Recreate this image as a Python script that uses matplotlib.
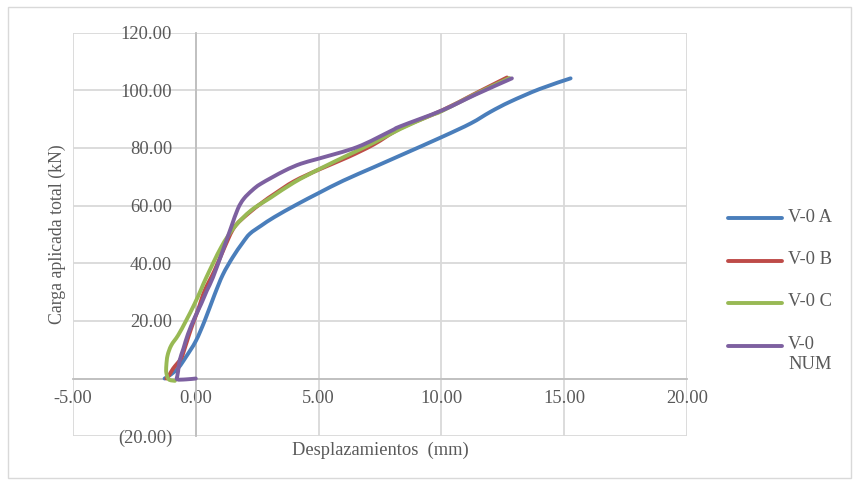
import matplotlib
matplotlib.use("Agg")
import matplotlib.pyplot as plt
from matplotlib.lines import Line2D
from matplotlib.patches import Rectangle, PathPatch
from matplotlib.path import Path
from matplotlib.ticker import FuncFormatter

# ---- data ----
a_x = [-1.27, -1.0, -0.7, -0.4, 0.0, 0.36, 0.76, 1.1, 1.5, 1.9, 2.2, 2.66, 3.2,
       4.1, 5.02, 6.0, 7.25, 8.34, 10.03, 11.2, 12.0, 12.8, 14.0, 15.26]
a_y = [0.0, 1.5, 3.8, 7.5, 13.0, 20.0, 29.0, 36.0, 42.0, 47.0, 50.2, 53.0, 56.0,
       60.3, 64.4, 68.6, 73.3, 77.4, 83.8, 88.5, 92.5, 96.0, 100.4, 104.1]

b_x = [-1.2, -1.06, -0.92, -0.6, -0.45, -0.3, -0.1, 0.1, 0.36, 0.76, 1.17, 1.57, 2.12,
       2.73, 3.2, 4.0, 5.02, 6.2, 7.25, 8.34, 10.03, 11.3, 12.67]
b_y = [0.0, 1.5, 3.5, 7.0, 10.5, 14.5, 19.5, 24.0, 30.5, 37.4, 45.5, 52.5, 57.1,
       61.2, 64.0, 68.4, 72.5, 76.8, 81.2, 86.8, 93.0, 98.5, 104.4]

c_x = [-0.85, -1.1, -1.2, -1.2, -1.15, -1.0, -0.72, -0.4, -0.05, 0.22, 0.43, 1.03,
       1.57, 2.25, 3.06, 4.0, 5.02, 6.2, 7.25, 8.34, 9.5, 10.03, 11.3, 12.77]
c_y = [-0.8, -0.3, 2.0, 4.5, 8.0, 11.5, 15.0, 20.0, 25.9, 31.0, 35.1, 45.5,
       52.5, 58.3, 62.8, 68.0, 72.6, 77.5, 81.8, 86.6, 91.0, 92.8, 98.3, 104.2]

d_x = [0.0, -0.4, -0.75, -0.75, -0.72, -0.66, -0.5, -0.32, -0.05, 0.22, 0.45, 0.7,
       1.1, 1.44, 1.71, 1.95, 2.3, 2.66, 3.6, 4.28, 5.02, 6.58, 7.93, 8.34, 10.03,
       11.4, 12.87]
d_y = [0.0, -0.3, -0.3, 1.0, 2.5, 6.2, 10.5, 15.4, 21.0, 25.9, 30.5, 35.1,
       44.4, 52.5, 58.8, 62.3, 65.3, 67.6, 72.0, 74.5, 76.3, 80.3, 85.8, 87.5, 93.0,
       98.5, 104.1]

series_labels = ["V-0 A", "V-0 B", "V-0 C", "V-0\nNUM"]
series_colors = ["#4a7ebb", "#be4b48", "#98b954", "#7d60a0"]

x_ticks = [-5, 0, 5, 10, 15, 20]
y_ticks = [-20, 0, 20, 40, 60, 80, 100, 120]

FONT = ["Liberation Serif", "DejaVu Serif"]
TXT = "#595959"
FS = 13.3
W, H = 860, 484


def smooth_path(x, y):
    """Excel-style smoothed line: cubic Bezier through every point."""
    pts = list(zip(x, y))
    n = len(pts)
    verts = [pts[0]]
    codes = [Path.MOVETO]
    for i in range(n - 1):
        p0 = pts[i - 1] if i > 0 else pts[i]
        p1 = pts[i]
        p2 = pts[i + 1]
        p3 = pts[i + 2] if i + 2 < n else pts[i + 1]
        c1 = (p1[0] + (p2[0] - p0[0]) / 6.0, p1[1] + (p2[1] - p0[1]) / 6.0)
        c2 = (p2[0] - (p3[0] - p1[0]) / 6.0, p2[1] - (p3[1] - p1[1]) / 6.0)
        verts += [c1, c2, p2]
        codes += [Path.CURVE4] * 3
    return Path(verts, codes)


fig = plt.figure(figsize=(8.6, 4.84), dpi=100)
fig.patch.set_facecolor("white")
fig.add_artist(Rectangle((8 / W, 1 - 478 / H), (851 - 8) / W, (478 - 7) / H,
                         transform=fig.transFigure, fill=False,
                         edgecolor="#d9d9d9", linewidth=1.0))

ax = fig.add_axes([73 / W, 1 - 436.2 / H, (687 - 73) / W, (436.2 - 32.5) / H])
ax.set_xlim(x_ticks[0], x_ticks[-1])
ax.set_ylim(y_ticks[0], y_ticks[-1])
ax.set_xticks(x_ticks)
ax.set_yticks(y_ticks)
ax.grid(True, color="#d9d9d9", linewidth=1.3)
ax.set_axisbelow(True)

for s in ["top", "right"]:
    ax.spines[s].set_visible(False)
ax.spines["left"].set_position(("data", 0))
ax.spines["bottom"].set_position(("data", 0))
for s in ["left", "bottom"]:
    ax.spines[s].set_color("#bfbfbf")
    ax.spines[s].set_linewidth(1.3)


def yfmt(v, pos):
    if abs(v) < 1e-9:
        return ""
    if v < 0:
        return "({:.2f})".format(-v)
    return "{:.2f}".format(v)


ax.xaxis.set_major_formatter(FuncFormatter(lambda v, p: "{:.2f}".format(v)))
ax.yaxis.set_major_formatter(FuncFormatter(yfmt))
ax.tick_params(axis="both", length=0, labelsize=FS, labelcolor=TXT)
ax.tick_params(axis="x", pad=8)
ax.tick_params(axis="y", pad=17)
for lab in ax.get_xticklabels() + ax.get_yticklabels():
    lab.set_fontfamily(FONT)

xs = [a_x, b_x, c_x, d_x]
ys = [a_y, b_y, c_y, d_y]
for x, y, col in zip(xs, ys, series_colors):
    ax.add_patch(PathPatch(smooth_path(x, y), fill=False, edgecolor=col,
                           linewidth=2.8, joinstyle="round", capstyle="round",
                           zorder=3))

fig.text(380 / W, 1 - 450 / H, "Desplazamientos  (mm)", ha="center", va="center",
         fontsize=FS, color=TXT, family=FONT)
fig.text(57 / W, 1 - 234 / H, "Carga aplicada total (kN)", ha="center", va="center",
         rotation=90, fontsize=12.8, color=TXT, family=FONT)

# legend
rows = [218, 261, 303, 345.5]
for r, lab, col in zip(rows, series_labels, series_colors):
    yy = 1 - r / H
    fig.add_artist(Line2D([728 / W, 782 / W], [yy, yy], transform=fig.transFigure,
                          color=col, linewidth=2.8, solid_capstyle="round"))
    fig.text(788 / W, yy + 9.5 / H, lab, ha="left", va="top", fontsize=FS,
             color=TXT, family=FONT, linespacing=1.2)

fig.savefig("out.png", dpi=100)
